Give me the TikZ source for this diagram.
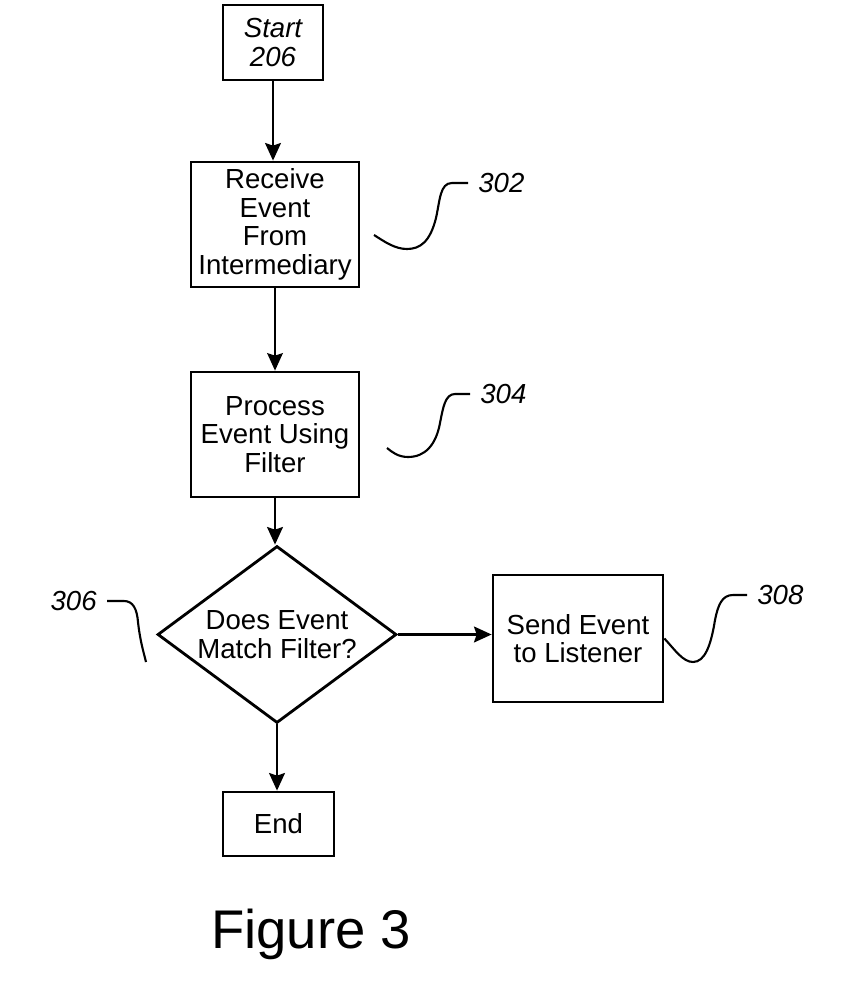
\documentclass[tikz,border=0pt]{standalone}
\usepackage{fontspec}
\setmainfont{Liberation Sans}
\usetikzlibrary{arrows.meta, shapes.geometric}
\tikzset{
	box/.style={draw, line width=1.6pt, align=center, inner sep=0pt, font=\fontsize{15.7}{16.2}\selectfont},
	terminal/.style={box, minimum width=2cm, minimum height=1.5cm},
	process/.style={box, minimum width=3.36cm, minimum height=2.5cm},
	decision/.style={box, diamond, aspect=1.35, minimum width=4.78cm, minimum height=3.54cm},
	refnum/.style={inner sep=0pt, font=\fontsize{15.7}{16}\selectfont\itshape},
	flow/.style={line width=1.5pt, -{Stealth[length=10pt, width=9pt, inset=1.5pt]}},
	thinflow/.style={flow, line width=0.9pt},
	leader/.style={line width=1.2pt}
}

\begin{document}
\begin{tikzpicture}[x=0.02cm, y=-0.02cm]
	\useasboundingbox (0,0) rectangle (850,989);

	% --- Main column ---
	\node[terminal] (start) at (273, 42.5) {\itshape Start\\\itshape 206};
	\node[process] (receive) at (275, 224.5) {Receive\\Event\\From\\Intermediary};
	\node[process] (filter) at (275, 434.5) {Process\\Event Using\\Filter};
	\node[decision] (match) at (277, 634.5) {Does Event\\Match Filter?};
	\node[process, minimum width=3.4cm, minimum height=2.54cm] (send) at (578, 638.5) {Send Event\\to Listener};
	\node[box, minimum width=2.22cm, minimum height=1.28cm] (finish) at (278.5, 824) {End};

	% Arrows
	\draw[flow] (start.south) -- (start.south |- receive.north);
	\draw[thinflow] (receive) -- (filter);
	\draw[flow] (filter.south) -- (filter.south |- match.north);
	\draw[flow] (match.east) -- (match.east -| send.west);
	\draw[flow] (match.south) -- (match.south |- finish.north);

	% --- Reference numerals ---
	\node[refnum, anchor=west] (l302) at (478, 183) {302};
	\node[refnum, anchor=west] (l304) at (480, 394) {304};
	\node[refnum, anchor=east] (l306) at (97, 601) {306};
	\node[refnum, anchor=west] (l308) at (757, 595) {308};

	\coordinate (p302) at (374, 235);
	\coordinate (p304) at (387, 448);
	\coordinate (p306) at (146, 662);

	\draw[leader] ([xshift=-0.2cm]l302.west) -- (452,183) .. controls (440,183) and (440,200) .. (436,218)
		.. controls (430,242) and (420,249) .. (407,249) .. controls (395,249) and (385,242) .. (p302);
	\draw[leader] ([xshift=-0.2cm]l304.west) -- (455,394) .. controls (445,394) and (443,408) .. (440,423)
		.. controls (436,445) and (425,457) .. (408,457) .. controls (398,457) and (392,452) .. (p304);
	\draw[leader] ([xshift=0.2cm]l306.east) -- (124,601) .. controls (133,601) and (137,609) .. (138,622)
		.. controls (140,640) and (143,650) .. (p306);
	\draw[leader] ([xshift=-0.2cm]l308.west) -- (733,595) .. controls (722,595) and (718,605) .. (715,620)
		.. controls (711,645) and (705,662) .. (693,662) .. controls (683,662) and (675,650) .. (send.east);

	% --- Caption ---
	\node[font=\fontsize{31}{36}\selectfont, anchor=base] (caption) at (311, 948) {Figure 3};
\end{tikzpicture}
\end{document}
